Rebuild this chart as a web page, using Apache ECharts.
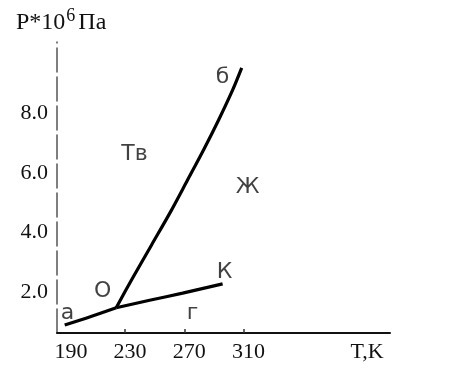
<!DOCTYPE html>
<html><head><meta charset="utf-8">
<script src="https://cdn.jsdelivr.net/npm/echarts@6/dist/echarts.min.js"></script>
<style>html,body{margin:0;padding:0;background:#fff}#c{width:474px;height:382px}</style>
</head><body><div id="c"></div>
<script>
// Sublimation curve a–O
const subT = [189.2, 206.0, 224.0];
const subP = [0.89, 1.16, 1.47];
// Melting curve O–б
const meltT = [224.0, 235.1, 247.9, 260.7, 272.2, 283.0, 293.2, 302.7, 308.8];
const meltP = [1.47, 2.47, 3.58, 4.69, 5.76, 6.77, 7.78, 8.79, 9.53];
// Vaporisation curve O–К
const vapT = [224.0, 246.6, 268.9, 295.9];
const vapP = [1.47, 1.72, 1.96, 2.27];
// Tick labels
const xTicks = [190, 230, 270, 310];
const xTickMarks = [230, 270, 310];
const yTicks = [2, 4, 6, 8];
// Annotations
const noteText = ['a', 'O', 'К', 'г', 'б', 'Тв', 'Ж'];
const noteT = [191.1, 214.8, 297.2, 275.6, 295.9, 236.4, 312.7];
const noteP = [1.29, 2.03, 2.67, 1.29, 9.23, 6.61, 5.53];

const zip = (a, b) => a.map((v, i) => [v, b[i]]);
const serif = 'Liberation Serif';
const hand = 'DejaVu Sans';
const lineSeries = (T, P) => ({
  type: 'line', data: zip(T, P), smooth: 0.3, symbol: 'none',
  lineStyle: { color: '#000', width: 3.2 }, z: 3
});

const chart = echarts.init(document.getElementById('c'));
chart.setOption({
  animation: false,
  grid: { left: 57, right: 84, top: 42, bottom: 49 },
  xAxis: {
    type: 'value', min: 184, max: 409,
    splitLine: { show: false },
    axisLine: { lineStyle: { color: '#111', width: 2 } },
    axisTick: { show: true, customValues: xTickMarks, inside: true, length: 4, lineStyle: { color: '#333', width: 1.5 } },
    axisLabel: { customValues: xTicks, color: '#111', fontFamily: serif, fontSize: 22, margin: 8,
      padding: [0, 0, 0, 10], formatter: v => String(v) }
  },
  yAxis: {
    type: 'value', min: 0.62, max: 10.4,
    splitLine: { show: false },
    axisLine: { show: true, lineStyle: { color: '#555', width: 1.5, type: [24, 5] } },
    axisTick: { show: false },
    axisLabel: { customValues: yTicks, color: '#111', fontFamily: serif, fontSize: 22, margin: 9,
      formatter: v => v.toFixed(1) }
  },
  graphic: [
    { type: 'text', left: 16, top: 7, style: {
        text: '{a|P*10}{s|6}{a|Па}',
        rich: {
          a: { fontFamily: serif, fontSize: 24, fill: '#111', lineHeight: 28, verticalAlign: 'bottom' },
          s: { fontFamily: serif, fontSize: 18, fill: '#111', lineHeight: 28, verticalAlign: 'top', padding: [0, 3, 0, 1] }
        } } },
    { type: 'text', x: 367, y: 352, style: { text: 'T,K', fontFamily: serif, fontSize: 22, fill: '#111', align: 'center', verticalAlign: 'middle' } }
  ],
  series: [
    lineSeries(subT, subP),
    lineSeries(meltT, meltP),
    lineSeries(vapT, vapP),
    {
      type: 'scatter', symbolSize: 0, z: 4,
      data: noteText.map((t, i) => ({ value: [noteT[i], noteP[i]], name: t })),
      label: { show: true, position: 'inside', formatter: p => p.name,
        fontFamily: hand, fontSize: 22, color: '#111' }
    }
  ]
});
</script></body></html>
